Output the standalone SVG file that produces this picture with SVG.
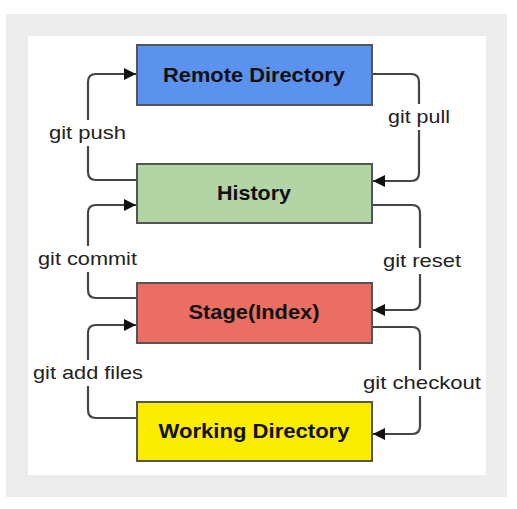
<svg xmlns="http://www.w3.org/2000/svg" width="517" height="509" viewBox="0 0 517 509">
<defs>
<style>
.box{stroke:#555;stroke-width:2}
.lbl{font-family:"Liberation Sans",Arial,sans-serif;font-weight:bold;font-size:21px;fill:#111;text-anchor:middle}
.cmd{font-family:"Liberation Sans",Arial,sans-serif;font-size:19px;fill:#222}
.ln{fill:none;stroke:#444;stroke-width:2.2;marker-end:url(#ah)}
.bg{fill:#fff}
</style>
<marker id="ah" viewBox="0 0 12 12" refX="12" refY="6" markerWidth="12" markerHeight="12" markerUnits="userSpaceOnUse" orient="auto">
<path d="M0,0 L12,6 L0,12 Z" fill="#111"/>
</marker>
</defs>
<rect x="0" y="0" width="517" height="509" fill="#fff"/>
<rect x="6" y="14" width="501" height="483" fill="#ececec"/>
<rect x="28" y="36" width="458" height="439" fill="#fff"/>
<g id="connectors">
<path class="ln" d="M137,180 H96 Q88,180 88,172 V82 Q88,74 96,74 H136"/>
<path class="ln" d="M372,74 H411 Q419,74 419,82 V173 Q419,181 411,181 H373"/>
<path class="ln" d="M137,298 H96 Q88,298 88,290 V213 Q88,205 96,205 H136"/>
<path class="ln" d="M372,205 H412 Q420,205 420,213 V302 Q420,310 412,310 H373"/>
<path class="ln" d="M137,418 H96 Q88,418 88,410 V333 Q88,325 96,325 H136"/>
<path class="ln" d="M372,327 H412 Q420,327 420,335 V426 Q420,434 412,434 H373"/>
<rect class="bg" x="47" y="120" width="82" height="26"/>
<text class="cmd" x="49" y="139" textLength="77" lengthAdjust="spacingAndGlyphs">git push</text>
<rect class="bg" x="386" y="104" width="66" height="26"/>
<text class="cmd" x="388" y="123" textLength="62" lengthAdjust="spacingAndGlyphs">git pull</text>
<rect class="bg" x="36" y="246" width="103" height="26"/>
<text class="cmd" x="38" y="265" textLength="99" lengthAdjust="spacingAndGlyphs">git commit</text>
<rect class="bg" x="381" y="248" width="82" height="26"/>
<text class="cmd" x="383" y="267" textLength="78" lengthAdjust="spacingAndGlyphs">git reset</text>
<rect class="bg" x="31" y="360" width="114" height="26"/>
<text class="cmd" x="33" y="379" textLength="110" lengthAdjust="spacingAndGlyphs">git add files</text>
<rect class="bg" x="361" y="370" width="122" height="26"/>
<text class="cmd" x="363" y="389" textLength="118" lengthAdjust="spacingAndGlyphs">git checkout</text>
</g>
<g id="remote">
<rect class="box" x="137" y="45" width="235" height="60" fill="#5b92ee"/>
<text class="lbl" x="254" y="82" textLength="182" lengthAdjust="spacingAndGlyphs">Remote Directory</text>
</g>
<g id="history">
<rect class="box" x="137" y="164" width="235" height="59" fill="#b3d4a5"/>
<text class="lbl" x="254" y="200" textLength="74" lengthAdjust="spacingAndGlyphs">History</text>
</g>
<g id="stage">
<rect class="box" x="137" y="283" width="235" height="60" fill="#ea6f62"/>
<text class="lbl" x="254" y="319" textLength="131" lengthAdjust="spacingAndGlyphs">Stage(Index)</text>
</g>
<g id="working">
<rect class="box" x="137" y="402" width="235" height="59" fill="#fcec00"/>
<text class="lbl" x="254" y="438" textLength="191" lengthAdjust="spacingAndGlyphs">Working Directory</text>
</g>
</svg>
